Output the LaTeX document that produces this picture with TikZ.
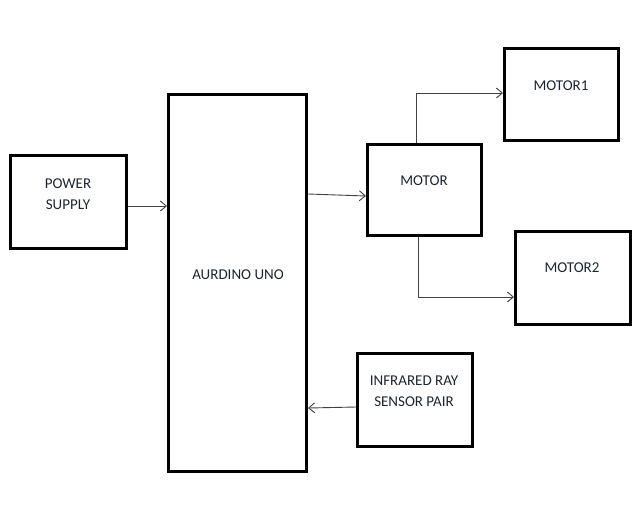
\documentclass[tikz,border=0pt]{standalone}
\usepackage{fontspec}
\setmainfont{Carlito}
\usetikzlibrary{arrows.meta}
\definecolor{txtc}{HTML}{1E2430}
\definecolor{linec}{HTML}{404040}
\tikzset{
  box/.style={draw=black, line width=3pt, rectangle, inner sep=0pt},
  txt/.style={text=txtc, font=\fontsize{15}{21}\selectfont, align=center, inner sep=0pt},
  conn/.style={draw=linec, line width=0.9pt, -{Straight Barb[length=6pt,width=10pt,line width=0.9pt]}}
}
\begin{document}
\begin{tikzpicture}[x=1pt,y=-1pt]
\useasboundingbox (0,0) rectangle (637,520);
% boxes
\node[box, minimum width=116pt, minimum height=93pt] (ps) at (68.5,202) {};
\node[box, minimum width=138pt, minimum height=377pt] (ard) at (237.5,283) {};
\node[box, minimum width=114pt, minimum height=91pt] (mot) at (424.5,190) {};
\node[box, minimum width=114pt, minimum height=92pt] (m1) at (561.5,94.5) {};
\node[box, minimum width=115pt, minimum height=93pt] (m2) at (573,278) {};
\node[box, minimum width=115pt, minimum height=93pt] (ir) at (415,400) {};
% texts
\node[txt] (pst) at (68,194) {POWER\\SUPPLY};
\node[txt] (ardt) at (238,275) {AURDINO UNO};
\node[txt] (mott) at (424,181) {MOTOR};
\node[txt] (m1t) at (561,86) {MOTOR1};
\node[txt] (m2t) at (572,268) {MOTOR2};
\node[txt] (irt) at (414,391.5) {INFRARED RAY\\SENSOR PAIR};
% connectors
\draw[conn] (ps.east |- 0,206) -- (ard.west |- 0,206);
\draw[conn] (ard.east |- 0,194) -- (mot.west |- 0,196);
\draw[conn] (mot.north -| 416,0) |- (m1.west |- 0,93);
\draw[conn] (mot.south -| 418,0) |- (m2.west |- 0,297);
\draw[conn] (ir.west |- 0,407) -- (ard.east |- 0,408);
\end{tikzpicture}
\end{document}
